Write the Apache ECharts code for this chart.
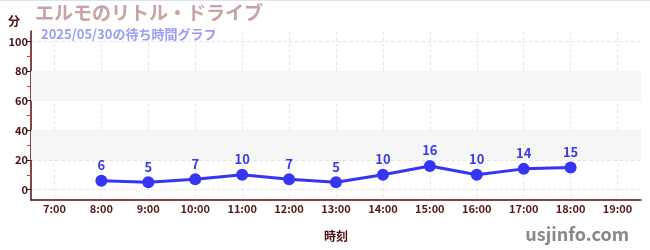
<!DOCTYPE html>
<html><head><meta charset="utf-8">
<script src="https://cdn.jsdelivr.net/npm/echarts@6/dist/echarts.min.js"></script>
<style>html,body{margin:0;padding:0;background:#fff}#c{width:650px;height:250px;border-top:1px solid #e0e0f4;box-sizing:border-box}</style>
</head><body><div id="c"></div>
<script>
const categories = ['7:00','8:00','9:00','10:00','11:00','12:00','13:00','14:00','15:00','16:00','17:00','18:00','19:00'];
const waits = [null,6,5,7,10,7,5,10,16,10,14,15,null];
const yLabels = [0,20,40,60,80,100];
const yMinorTicks = [10,30,50,70,90];
const bands = [[20,40],[60,80]];

const chart = echarts.init(document.getElementById('c'));
const font = '"Noto Sans CJK JP","Noto Sans",sans-serif';
const centerIdx = categories.map((c,i)=>i);
chart.setOption({
  animation:false,
  textStyle:{fontFamily:font},
  title:[
    {text:'エルモのリトル・ドライブ',left:30,top:-3,textStyle:{color:'#c9a2a5',fontSize:19,fontWeight:'bold',fontFamily:font}},
    {text:'2025/05/30の待ち時間グラフ',left:36,top:22,textStyle:{color:'#9a9cf7',fontSize:13,fontWeight:'bold',fontFamily:font}},
    {text:'usjinfo.com',right:16,top:219,textStyle:{color:'#888',fontSize:18,fontWeight:'bold',fontFamily:font}}
  ],
  grid:{left:31,right:9,top:30,bottom:50,containLabel:false},
  xAxis:[
    {type:'category',data:categories,boundaryGap:true,
    name:'時刻',nameLocation:'middle',nameGap:30,
    nameTextStyle:{color:'#4a0f0f',fontSize:12,fontWeight:'bold'},
    axisLine:{onZero:false,lineStyle:{color:'#5a0a0a',width:1.5}},
    axisTick:{alignWithLabel:true,length:4,inside:true,lineStyle:{color:'#333'}},
    axisLabel:{color:'#5a1414',fontSize:11,fontWeight:'bold',margin:3},
    splitLine:{show:false}
    },
    {type:'value',min:-0.5,max:categories.length-0.5,position:'bottom',
     axisLine:{show:false,onZero:false},axisLabel:{show:false},
     axisTick:{show:false,customValues:centerIdx},
     splitLine:{show:true,customValues:centerIdx,lineStyle:{color:'#e8e8e8',type:'dashed'}}
    }
  ],
  yAxis:[
    {type:'value',min:-7,max:107,
     name:'分',nameLocation:'end',nameGap:4,
     nameTextStyle:{color:'#4a0f0f',fontSize:12,fontWeight:'bold',align:'right',padding:[0,11,0,0]},
     axisLine:{show:true,onZero:false,lineStyle:{color:'#5a0a0a',width:1.5}},
     axisTick:{show:true,customValues:yLabels,length:5,lineStyle:{color:'#222'}},
     axisLabel:{customValues:yLabels,color:'#4a0f0f',fontSize:11,fontWeight:'bold',margin:3},
     splitLine:{show:true,customValues:yLabels,lineStyle:{color:'#e6e6e6',type:'dashed'}}
    },
    {type:'value',min:-7,max:107,position:'left',
     axisLine:{show:false,onZero:false},
     axisTick:{show:true,customValues:yMinorTicks,length:4,lineStyle:{color:'#e03030'}},
     axisLabel:{show:false},splitLine:{show:false}
    }
  ],
  series:[{
    type:'line',data:waits,xAxisIndex:0,yAxisIndex:0,
    lineStyle:{color:'#3535f5',width:3},
    itemStyle:{color:'#3535f5'},
    symbol:'circle',symbolSize:12,
    label:{show:true,position:'top',distance:3,color:'#3a3ae8',fontSize:13,fontWeight:'bold'},
    markArea:{silent:true,itemStyle:{color:'#f6f6f6'},
      data:bands.map(b=>[{yAxis:b[0]},{yAxis:b[1]}])}
  }]
});
</script></body></html>
